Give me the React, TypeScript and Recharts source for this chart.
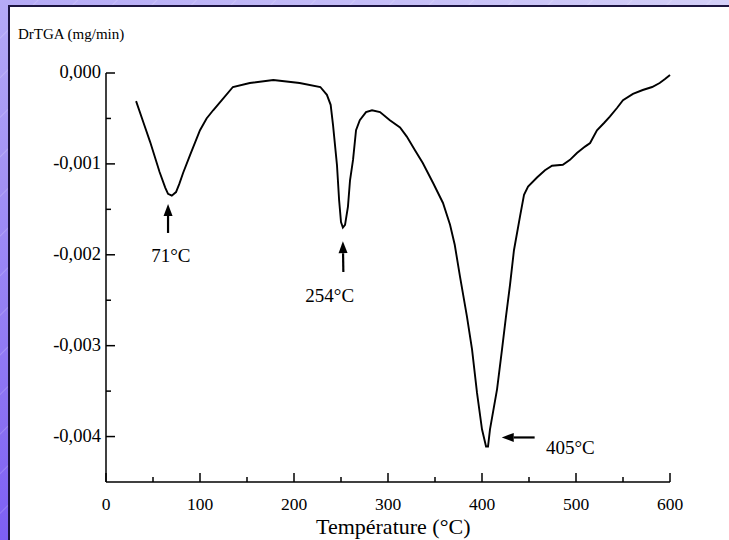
import React from 'react';
import { LineChart, Line, XAxis, YAxis, ReferenceLine, ReferenceDot } from 'recharts';

// Temperature (°C) and derivative weight loss (mg/min)
const temperatures = [
  32, 40, 47, 57, 63, 66, 70, 74.5, 78, 82, 89.5, 100, 107, 114, 123, 135, 153,
  178, 206, 228, 235, 239, 241.5, 245.7, 248, 250, 252, 254.3, 257.4, 259.6,
  262.8, 266, 270, 276.6, 283, 291.5, 302, 312.8, 320, 328.7, 337, 348, 358.5,
  366, 371, 376.6, 384, 389.4, 394.7, 400, 404.3, 406.4, 408.5, 416, 421.3,
  425.5, 429.8, 434, 440.4, 444.7, 449, 458.5, 467, 474.5, 486, 493.6, 501,
  509.6, 515, 522.3, 529.8, 536, 543.6, 550, 560.6, 571, 581, 589, 594.7, 600,
];
const drTGA = [
  -0.00031, -0.00055, -0.00076, -0.00109, -0.00126, -0.00133, -0.00135,
  -0.00131, -0.00122, -0.0011, -0.0009, -0.00063, -0.0005, -0.00041, -0.0003,
  -0.000154, -0.00011, -0.000077, -0.00011, -0.000154, -0.00024, -0.00035,
  -0.00057, -0.00101, -0.0014, -0.00164, -0.0017, -0.00167, -0.00147,
  -0.00118, -0.000956, -0.00063, -0.00052, -0.00043, -0.00041, -0.00043,
  -0.00052, -0.0006, -0.0007, -0.00085, -0.00099, -0.00121, -0.00143,
  -0.00167, -0.00189, -0.00224, -0.00268, -0.00304, -0.00352, -0.00392,
  -0.00411, -0.00411, -0.00392, -0.00348, -0.00304, -0.00268, -0.00233,
  -0.00195, -0.00158, -0.00134, -0.00125, -0.00115, -0.00107, -0.00102,
  -0.00101, -0.000956, -0.00088, -0.00081, -0.00077, -0.00063, -0.00055,
  -0.00048, -0.000385, -0.0003, -0.00023, -0.000187, -0.000154, -0.00011,
  -0.000066, -0.000022,
];

const xTicks = [0, 50, 100, 150, 200, 250, 300, 350, 400, 450, 500, 550, 600];
const yTicks = [0, -0.0005, -0.001, -0.0015, -0.002, -0.0025, -0.003, -0.0035, -0.004];

// Peak annotations: label text, label anchor, arrow tail -> arrow tip (data coords)
const peakLabels = ['71°C', '254°C', '405°C'];
const labelAt = [
  [69, -0.002],
  [238, -0.00245],
  [494, -0.00412],
];
const arrowTail = [
  [66, -0.00176],
  [252.5, -0.00219],
  [456, -0.00401],
];
const arrowTip = [
  [66, -0.00144],
  [252, -0.00185],
  [421, -0.00401],
];

const data = temperatures.map((t, i) => ({ t, v: drTGA[i] }));

const FONT = '"Liberation Serif", "Times New Roman", serif';

const fmtY = (v: number) => {
  if (Math.abs(v) < 1e-9) return '0,000';
  return v.toFixed(3).replace('.', ',');
};

const XTick = (props: any) => {
  const { x, y, payload } = props;
  const major = Math.round(payload.value) % 100 === 0;
  return (
    <g>
      <line x1={x} y1={y} x2={x} y2={y - (major ? 9 : 5)} stroke="#000" strokeWidth={1.5} />
      {major && (
        <text x={x} y={y + 28} textAnchor="middle" fontFamily={FONT} fontSize={17.5} fill="#000">
          {payload.value}
        </text>
      )}
    </g>
  );
};

const YTick = (props: any) => {
  const { x, y, payload } = props;
  const v = payload.value;
  const major = Math.abs(Math.round(v * 1000) - v * 1000) < 1e-6;
  return (
    <g>
      <line x1={x} y1={y} x2={x + (major ? 9 : 5)} y2={y} stroke="#000" strokeWidth={1.5} />
      {major && (
        <text x={x - 5} y={y + 5} textAnchor="end" fontFamily={FONT} fontSize={18.5} fill="#000">
          {fmtY(v)}
        </text>
      )}
    </g>
  );
};

const arrowShape = (p: any) => {
  const { x1, y1, x2, y2 } = p;
  const dx = x2 - x1;
  const dy = y2 - y1;
  const len = Math.sqrt(dx * dx + dy * dy) || 1;
  const ux = dx / len;
  const uy = dy / len;
  const headL = 12;
  const headW = 4.5;
  const bx = x2 - ux * headL;
  const by = y2 - uy * headL;
  const pts = `${x2},${y2} ${bx - uy * headW},${by + ux * headW} ${bx + uy * headW},${by - ux * headW}`;
  return (
    <g>
      <line x1={x1} y1={y1} x2={bx} y2={by} stroke="#000" strokeWidth={2.2} />
      <polygon points={pts} fill="#000" />
    </g>
  );
};

export default function App() {
  return (
    <div
      style={{
        position: 'fixed',
        left: 0,
        top: 0,
        width: 729,
        height: 540,
        overflow: 'hidden',
        background:
          'repeating-linear-gradient(135deg, rgba(255,255,255,0) 0px, rgba(255,255,255,0) 26px, rgba(255,255,255,0.18) 27px, rgba(255,255,255,0) 28px), linear-gradient(200deg, #d4d0f8 0%, #b3a8f6 35%, #7d5ff3 100%)',
      }}
    >
      <div
        style={{
          position: 'absolute',
          left: 8,
          top: 5,
          right: 0,
          bottom: -2,
          background: '#fff',
          borderLeft: '2px solid #1c1440',
          borderTop: '2px solid #1c1440',
        }}
      />
      <div
        style={{
          position: 'absolute',
          left: 18,
          top: 26,
          fontFamily: FONT,
          fontSize: 15,
          color: '#000',
          whiteSpace: 'nowrap',
        }}
      >
        DrTGA (mg/min)
      </div>
      <div
        style={{
          position: 'absolute',
          left: 316,
          top: 515,
          fontFamily: FONT,
          fontSize: 22,
          lineHeight: '24px',
          color: '#000',
          whiteSpace: 'nowrap',
        }}
      >
        Température (°C)
      </div>
      <div style={{ position: 'absolute', left: 0, top: 0 }}>
        <LineChart
          width={729}
          height={540}
          data={data}
          margin={{ top: 73, right: 59, bottom: 18, left: 46 }}
        >
          <XAxis
            dataKey="t"
            type="number"
            domain={[0, 600]}
            ticks={xTicks}
            interval={0}
            tickLine={false}
            tickSize={0}
            tickMargin={0}
            axisLine={{ stroke: '#000', strokeWidth: 1.5 }}
            tick={<XTick />}
            height={40}
          />
          <YAxis
            dataKey="v"
            type="number"
            domain={[-0.0045, 0]}
            ticks={yTicks}
            interval={0}
            tickLine={false}
            tickSize={0}
            tickMargin={0}
            axisLine={{ stroke: '#000', strokeWidth: 1.5 }}
            tick={<YTick />}
            width={60}
          />
          {peakLabels.map((lab, i) => (
            <ReferenceLine
              key={'a' + lab}
              segment={[
                { x: arrowTail[i][0], y: arrowTail[i][1] },
                { x: arrowTip[i][0], y: arrowTip[i][1] },
              ]}
              ifOverflow="visible"
              shape={arrowShape}
            />
          ))}
          {peakLabels.map((lab, i) => (
            <ReferenceDot
              key={'l' + lab}
              x={labelAt[i][0]}
              y={labelAt[i][1]}
              r={0}
              fill="none"
              stroke="none"
              ifOverflow="visible"
              label={{
                value: lab,
                position: 'center',
                fill: '#000',
                fontFamily: FONT,
                fontSize: 19,
              }}
            />
          ))}
          <Line
            type="linear"
            dataKey="v"
            stroke="#000"
            strokeWidth={1.9}
            dot={false}
            isAnimationActive={false}
          />
        </LineChart>
      </div>
    </div>
  );
}
